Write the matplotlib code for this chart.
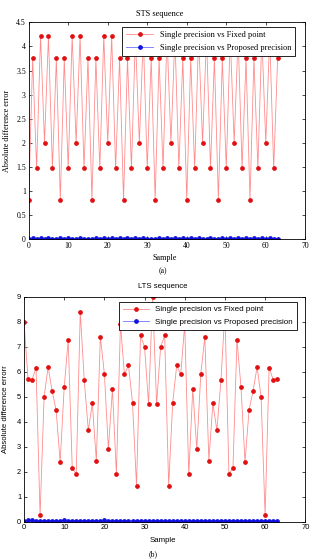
import numpy as np
import matplotlib
matplotlib.use('Agg')
import matplotlib.pyplot as plt

# STS sequence, 64 samples
sts_fixed = [0.82, 3.75, 1.47, 4.22, 2.00, 4.22, 1.47, 3.75,
             0.82, 3.75, 1.47, 4.22, 2.00, 4.22, 1.47, 3.75,
             0.82, 3.75, 1.47, 4.22, 2.00, 4.22, 1.47, 3.75,
             0.82, 3.75, 1.47, 4.22, 2.00, 4.22, 1.47, 3.75,
             0.82, 3.75, 1.47, 4.22, 2.00, 4.22, 1.47, 3.75,
             0.82, 3.75, 1.47, 4.22, 2.00, 4.22, 1.47, 3.75,
             0.82, 3.75, 1.47, 4.22, 2.00, 4.22, 1.47, 3.75,
             0.82, 3.75, 1.47, 4.22, 2.00, 4.22, 1.47, 3.75]
sts_proposed = [0.01, 0.02, 0.01, 0.02, 0.01, 0.02, 0.01, 0.01,
                0.02, 0.01, 0.02, 0.01, 0.01, 0.02, 0.01, 0.01,
                0.01, 0.02, 0.01, 0.02, 0.01, 0.02, 0.01, 0.02,
                0.01, 0.02, 0.01, 0.02, 0.01, 0.02, 0.01, 0.01,
                0.01, 0.02, 0.01, 0.02, 0.01, 0.02, 0.01, 0.02,
                0.01, 0.02, 0.01, 0.02, 0.01, 0.01, 0.02, 0.01,
                0.01, 0.02, 0.01, 0.02, 0.01, 0.02, 0.01, 0.02,
                0.01, 0.02, 0.01, 0.02, 0.01, 0.02, 0.01, 0.01]

# LTS sequence, 64 samples
lts_fixed = [8.00, 5.71, 5.68, 6.16, 0.25, 4.99, 6.19, 5.23,
             4.46, 2.39, 5.37, 7.28, 2.16, 1.89, 8.39, 5.65,
             3.65, 4.73, 2.44, 7.40, 5.92, 2.91, 5.31, 1.89,
             7.90, 5.89, 6.25, 4.76, 1.44, 7.45, 6.99, 4.71,
             9.00, 4.71, 6.99, 7.45, 1.44, 4.76, 6.25, 5.89,
             7.90, 1.89, 5.31, 2.91, 5.92, 7.40, 2.44, 4.73,
             3.65, 5.65, 8.39, 1.89, 2.16, 7.28, 5.37, 2.39,
             4.46, 5.23, 6.19, 4.99, 0.25, 6.16, 5.68, 5.71]
lts_proposed = [0.04, 0.05, 0.05, 0.04, 0.02, 0.04, 0.04, 0.04,
                0.04, 0.04, 0.05, 0.03, 0.04, 0.04, 0.03, 0.04,
                0.04, 0.04, 0.03, 0.04, 0.05, 0.03, 0.04, 0.04,
                0.04, 0.04, 0.04, 0.04, 0.04, 0.04, 0.03, 0.04,
                0.03, 0.04, 0.04, 0.02, 0.02, 0.02, 0.02, 0.02,
                0.02, 0.03, 0.04, 0.04, 0.04, 0.04, 0.03, 0.02,
                0.02, 0.03, 0.04, 0.04, 0.04, 0.03, 0.02, 0.04,
                0.02, 0.02, 0.03, 0.04, 0.04, 0.03, 0.04, 0.03]

samples = np.arange(64)
W, H = 315, 559
fig = plt.figure(figsize=(W / 100, H / 100), dpi=100)


def style_axes(ax, font):
    ax.tick_params(direction='in', top=True, right=True, length=2.5, width=0.5,
                   labelsize=font['size'], pad=2)
    for lab in ax.get_xticklabels() + ax.get_yticklabels():
        lab.set_family(font['family'])
    for s in ax.spines.values():
        s.set_linewidth(0.6)


def draw(ax, fixed, proposed, ymax, yticks, font, leg_box):
    ax.plot(samples, fixed, color='#ff8c8c', lw=0.6)
    ax.plot(samples, fixed, ls='none', marker='o', ms=2.4, color='#e01010', mec='#e01010')
    ax.plot(samples, proposed, color='#7070ff', lw=0.6)
    ax.plot(samples, proposed, ls='none', marker='o', ms=2.4, color='#1010e0', mec='#1010e0')
    ax.set_xlim(0, 70)
    ax.set_ylim(0, ymax)
    ax.set_xticks(np.arange(0, 71, 10))
    ax.set_yticks(yticks)
    ax.set_yticklabels(['%g' % t for t in yticks])
    style_axes(ax, font)
    # legend entries
    h1, = ax.plot([], [], color='#ff8c8c', lw=0.6, marker='o', ms=2.4,
                  mfc='#e01010', mec='#e01010')
    h2, = ax.plot([], [], color='#7070ff', lw=0.6, marker='o', ms=2.4,
                  mfc='#1010e0', mec='#1010e0')
    leg = ax.legend([h1, h2], ['Single precision vs Fixed point',
                               'Single precision vs Proposed precision'],
                    loc='upper left', bbox_to_anchor=leg_box,
                    prop={'family': font['family'], 'size': font['size'] + 0.4},
                    frameon=True, fancybox=False, edgecolor='black', framealpha=1,
                    borderpad=0.5, handlelength=3.2, labelspacing=0.6,
                    handletextpad=0.8, borderaxespad=0)
    leg.get_frame().set_linewidth(0.6)


def fx(px):
    return px / W


def fy(py):
    return 1 - py / H


serif = {'family': 'Liberation Serif', 'size': 5.6}
sans = {'family': 'Liberation Sans', 'size': 5.4}

# (a) STS
ax1 = fig.add_axes([fx(28.7), fy(239.3), fx(305.3 - 28.7), (239.3 - 22.3) / H])
draw(ax1, sts_fixed, sts_proposed, 4.5, np.arange(0, 4.51, 0.5), serif,
     ((122 - 28.7) / (305.3 - 28.7), (239.3 - 26.7) / (239.3 - 22.3)))
fig.text(fx(160), fy(13.5), 'STS sequence', ha='center', va='center',
         family='Liberation Serif', fontsize=6)
fig.text(fx(165), fy(257.5), 'Sample', ha='center', va='center',
         family='Liberation Serif', fontsize=5.9)
fig.text(fx(7), fy(131), 'Absolute difference error', ha='center', va='center',
         rotation=90, family='Liberation Serif', fontsize=5.9)
fig.text(fx(163), fy(271), '(a)', ha='center', va='center',
         family='Liberation Serif', fontsize=5.6)

# (b) LTS
ax2 = fig.add_axes([fx(24), fy(521.7), fx(305.3 - 24), (521.7 - 296.7) / H])
draw(ax2, lts_fixed, lts_proposed, 9, np.arange(0, 10, 1), sans,
     ((119 - 24) / (305.3 - 24), (521.7 - 301.7) / (521.7 - 296.7)))
fig.text(fx(163), fy(286.5), 'LTS sequence', ha='center', va='center',
         family='Liberation Sans', fontsize=5.6)
fig.text(fx(163), fy(540), 'Sample', ha='center', va='center',
         family='Liberation Sans', fontsize=5.6)
fig.text(fx(6), fy(409), 'Absolute difference errorr', ha='center', va='center',
         rotation=90, family='Liberation Sans', fontsize=5.6)
fig.text(fx(153), fy(554), '(b)', ha='center', va='center',
         family='Liberation Serif', fontsize=5.6)

fig.savefig('out.png', dpi=100)
